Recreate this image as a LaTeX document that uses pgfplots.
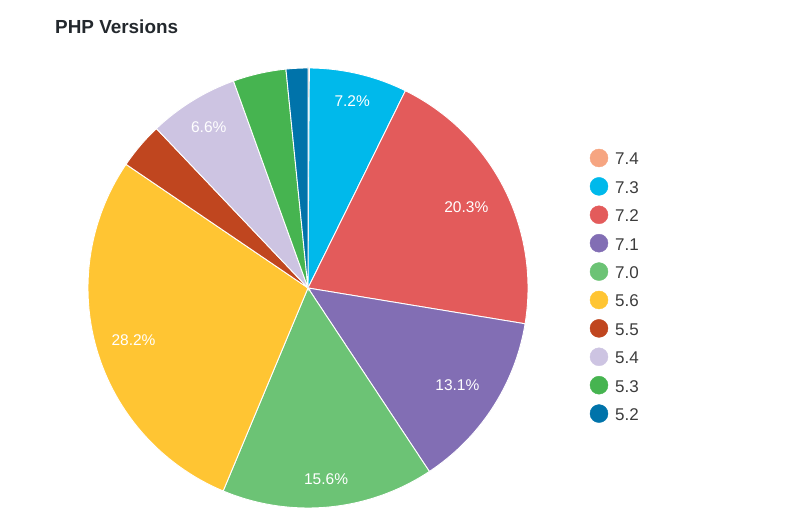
\documentclass[border=0pt]{standalone}
\usepackage{pgfplots}
\pgfplotsset{compat=1.18}
\usepackage{fontspec}
\setmainfont{Liberation Sans}
\definecolor{c74}{HTML}{F6A581}
\definecolor{c73}{HTML}{00B9EB}
\definecolor{c72}{HTML}{E35B5B}
\definecolor{c71}{HTML}{826EB4}
\definecolor{c70}{HTML}{6CC375}
\definecolor{c56}{HTML}{FFC533}
\definecolor{c55}{HTML}{C0461F}
\definecolor{c54}{HTML}{CDC4E2}
\definecolor{c53}{HTML}{46B450}
\definecolor{c52}{HTML}{0073AA}
\definecolor{titlec}{HTML}{23282D}
\definecolor{legc}{HTML}{3C3C3C}
\begin{document}
\begin{tikzpicture}
\useasboundingbox (0,0) rectangle (800pt,529pt);
\begin{axis}[at={(0,0)}, anchor=south west, scale only axis,
  width=800pt, height=529pt, xmin=0, xmax=800, ymin=0, ymax=529,
  hide axis, clip=false]
\def\cum{0}
% share / colour / version / label radius
\foreach \p/\c/\lab/\rr [count=\i] in {0.1/c74/7.4/0, 7.2/c73/7.3/192, 20.3/c72/7.2/178, 13.1/c71/7.1/178, 15.6/c70/7.0/192, 28.2/c56/5.6/182, 3.4/c55/5.5/0, 6.6/c54/5.4/189, 3.9/c53/5.3/0, 1.6/c52/5.2/0}{
  \pgfmathsetmacro\a{\cum*3.6}
  \pgfmathsetmacro\b{(\cum+\p)*3.6}
  \pgfmathsetmacro\m{(\a+\b)/2}
  \pgfmathsetmacro\newcum{\cum+\p}
  \xdef\cum{\newcum}
  \pgfmathsetmacro\lx{308+\rr*sin(\m)}
  \pgfmathsetmacro\ly{241+\rr*cos(\m)}
  \pgfmathsetmacro\gy{371-28.4*(\i-1)}
  \pgfmathsetmacro\ty{\gy-7}
  \edef\temp{\noexpand\addplot[fill=\c, draw=white, line width=0.9pt, domain=\a:\b, samples=80, variable=\noexpand\t] ({308+220*sin(\noexpand\t)},{241+220*cos(\noexpand\t)}) -- (axis cs:308,241) -- cycle;
    \noexpand\addplot[only marks, mark=*, mark size=9pt, color=\c] coordinates {(599,\gy)};
    \noexpand\node[anchor=base west, inner sep=0pt, text=legc, font=\noexpand\fontsize{17}{20}\noexpand\selectfont] at (axis cs:615,\ty) {\lab};}
  \temp
  \ifdim\p pt<5pt\else
    \edef\temp{\noexpand\node[text=white, inner sep=0pt, font=\noexpand\fontsize{15.5}{18}\noexpand\selectfont] at (axis cs:\lx,\ly) {\p\noexpand\%};}
    \temp
  \fi
}
\node[anchor=base west, inner sep=0pt, text=titlec, font=\bfseries\fontsize{18.9}{22}\selectfont] at (axis cs:55,495) {PHP Versions};
\end{axis}
\end{tikzpicture}
\end{document}
